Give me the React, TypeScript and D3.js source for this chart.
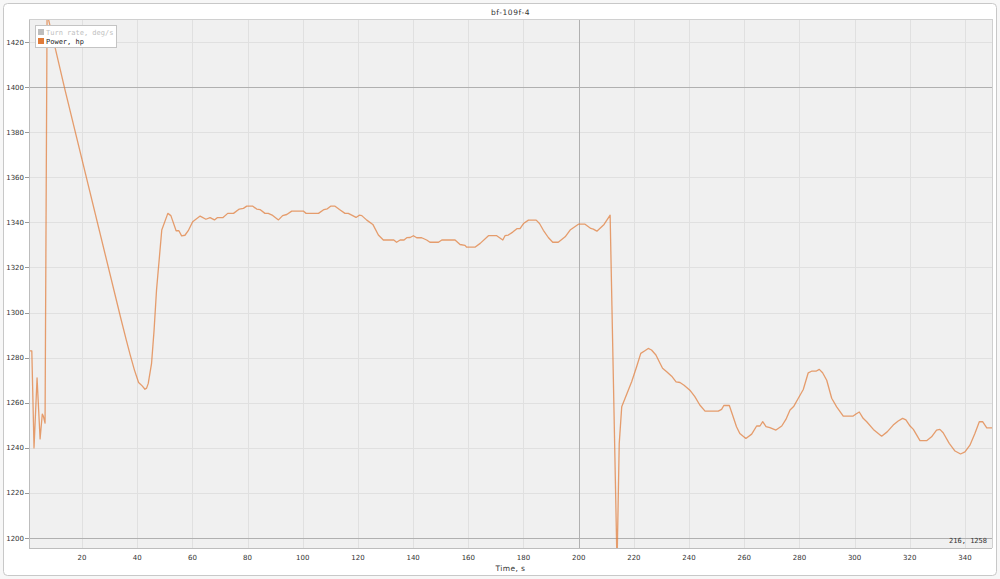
import React from "react";
import * as d3 from "d3";

const TITLE = "bf-109f-4";
const X_LABEL = "Time, s";
const LEGEND_ITEMS = ["Turn rate, deg/s", "Power, hp"];
const READOUT = "216, 1258";

const timeS = [
  0.8, 1.8, 2.6, 3.7, 4.8, 5.6, 6.0, 6.6, 7.4, 7.85, 13.85, 34.0, 36.0, 37.5, 39.0, 40.5, 41.8, 42.8, 43.4, 44.0,
  45.2, 46.1, 47.0, 48.9, 51.1, 52.2, 54.1, 55.1, 56.1, 57.3, 58.5, 60.1, 62.8, 64.9, 66.4, 68.0,
  69.0, 71.0, 72.8, 74.9, 77.0, 78.5, 79.7, 81.9, 83.3, 84.5, 86.3, 87.5, 89.1, 91.2, 92.7, 94.2,
  96.0, 100.2, 101.2, 105.7, 107.7, 108.9, 110.1, 111.7, 113.3, 115.3, 116.5, 118.1, 119.3, 120.5,
  121.4, 123.2, 125.4, 127.4, 129.2, 133.0, 134.0, 135.3, 136.7, 137.7, 138.9, 140.1, 141.3, 143.1,
  144.9, 146.1, 149.2, 150.4, 155.2, 157.0, 158.8, 159.4, 162.4, 164.3, 167.3, 170.3, 172.5, 173.3,
  174.5, 176.1, 177.6, 178.8, 180.0, 181.8, 184.6, 185.8, 187.2, 189.0, 190.6, 192.6, 195.1, 196.9,
  199.9, 202.3, 204.4, 205.3, 206.6, 209.2, 211.4, 213.9, 214.7, 215.6, 219.2, 221.0, 222.5, 224.0,
  225.2, 226.4, 228.0, 229.2, 230.4, 231.9, 233.7, 235.3, 236.7, 238.2, 240.3, 242.1, 243.9, 245.8,
  250.6, 251.8, 252.6, 254.6, 255.8, 257.2, 258.4, 260.6, 262.7, 264.5, 265.7, 266.7, 267.9, 269.3,
  271.5, 273.6, 275.1, 276.6, 278.0, 279.6, 281.4, 283.2, 284.4, 286.0, 287.2, 288.4, 289.9, 291.7,
  293.5, 295.9, 299.5, 300.5, 301.7, 303.1, 304.4, 306.8, 309.8, 311.8, 314.0, 315.8, 317.4, 318.6,
  320.1, 321.3, 323.7, 326.1, 327.9, 329.7, 330.9, 332.1, 334.3, 336.4, 338.4, 340.0, 341.8, 343.6,
  345.2, 346.4, 347.9, 349.8,
];

const powerHp = [
  1283, 1283, 1240, 1271, 1244, 1255, 1254, 1251, 1450, 1430, 1398.7, 1297.7, 1288, 1281, 1274.5, 1269, 1267.5, 1266, 1266.5, 1268.6,
  1277.5, 1292, 1310, 1336.6, 1344, 1343, 1336.3, 1336.3, 1334, 1334.3, 1336.3, 1340.3, 1342.8, 1341.4, 1342.1, 1341.1,
  1342.1, 1342.1, 1344, 1344, 1345.9, 1346.2, 1347.2, 1347.2, 1345.9, 1345.7, 1344, 1344, 1343.1, 1341.1, 1343, 1343.5,
  1345, 1345, 1344, 1344, 1345.7, 1346, 1347.2, 1347.2, 1345.7, 1344, 1344, 1343, 1342.2, 1343.2,
  1343, 1341, 1339.1, 1334.4, 1332.2, 1332.2, 1331.2, 1332.2, 1332.2, 1333.2, 1333.3, 1334.1, 1333.2, 1333.2,
  1332.2, 1331.2, 1331.2, 1332.2, 1332.2, 1330.2, 1329.8, 1329, 1329, 1330.7, 1334.1, 1334.1, 1332.2, 1334.1,
  1334.4, 1335.7, 1337.2, 1337.3, 1339.5, 1341, 1341, 1339.5, 1336.5, 1333.3, 1331.2, 1331.2, 1333.6, 1336.6,
  1339.2, 1339.2, 1337.3, 1337, 1336.1, 1339.1, 1343.2, 1188, 1242, 1258.2, 1269.3, 1276, 1281.9, 1283.1,
  1284.1, 1283.4, 1281.2, 1278.2, 1275.3, 1273.8, 1271.8, 1269.3, 1269, 1267.8, 1265.6, 1262.7, 1259, 1256.3,
  1256.3, 1257.1, 1258.8, 1258.8, 1254.5, 1249.4, 1246.4, 1244.2, 1246.1, 1249.7, 1249.7, 1251.6, 1249.4, 1249,
  1247.9, 1249.7, 1252.6, 1256.8, 1258.5, 1262, 1265.9, 1273.3, 1274, 1274, 1274.8, 1273.3, 1270, 1262,
  1258.2, 1254.1, 1254.1, 1255, 1255.9, 1253.1, 1251.6, 1248.2, 1245.2, 1247.1, 1250.1, 1251.9, 1253.1, 1252.4,
  1249.7, 1248.2, 1243.2, 1243.2, 1244.9, 1247.9, 1248.2, 1246.7, 1242, 1238.6, 1237.3, 1238.2, 1241.2, 1246.4,
  1251.6, 1251.6, 1248.9, 1248.9,
];

const xTicks = [20, 40, 60, 80, 100, 120, 140, 160, 180, 200, 220, 240, 260, 280, 300, 320, 340];
const yTicks = [1200, 1220, 1240, 1260, 1280, 1300, 1320, 1340, 1360, 1380, 1400, 1420];
const majorX = [200];
const majorY = [1200, 1400];

export default function App() {
  const W = 1000, H = 579;
  const L = 29, R = 992, T = 19, B = 548;
  const x = d3.scaleLinear().domain([0.78, 349.8]).range([L, R]);
  const y = d3.scaleLinear().domain([1195.6, 1430.2]).range([B, T]);
  const cx = (t: number) => Math.round(x(t)) + 0.5;
  const cy = (v: number) => Math.round(y(v)) + 0.5;
  const pts = timeS.map((t, i) => [t, powerHp[i]] as [number, number]);
  const line = d3.line<[number, number]>().x(d => x(d[0])).y(d => y(d[1]));
  const sans = "'DejaVu Sans', sans-serif";
  const mono = "'DejaVu Sans Mono', monospace";
  return (
    <svg width={W} height={H} style={{ position: "absolute", left: 0, top: 0 }} xmlns="http://www.w3.org/2000/svg">
      <rect x={0} y={0} width={W} height={H} fill="#f7f7f7" />
      <rect x={3.5} y={3.5} width={993} height={572} rx={4} fill="#ffffff" stroke="#c8c8c8" />
      <text x={(L + R) / 2} y={15} textAnchor="middle" fontFamily={sans} fontSize={7.5} fill="#333" letterSpacing={0.6}>{TITLE}</text>
      <defs>
        <clipPath id="plotclip"><rect x={L} y={T} width={R - L} height={B - T} /></clipPath>
      </defs>
      <rect x={L} y={T} width={R - L} height={B - T} fill="#f0f0f0" />
      {xTicks.map(t => (
        <line key={"gx" + t} x1={cx(t)} x2={cx(t)} y1={T} y2={B} stroke="#e0e0e0" strokeWidth={1} />
      ))}
      {yTicks.map(v => (
        <line key={"gy" + v} x1={L} x2={R} y1={cy(v)} y2={cy(v)} stroke="#e0e0e0" strokeWidth={1} />
      ))}
      {majorX.map(t => (
        <line key={"mx" + t} x1={cx(t)} x2={cx(t)} y1={T} y2={B} stroke="#b0b0b0" strokeWidth={1} />
      ))}
      {majorY.map(v => (
        <line key={"my" + v} x1={L} x2={R} y1={cy(v)} y2={cy(v)} stroke="#b0b0b0" strokeWidth={1} />
      ))}
      <path d={line(pts) || ""} fill="none" stroke="#e07b39" strokeOpacity={0.72} strokeWidth={1.3} strokeLinejoin="round" clipPath="url(#plotclip)" />
      <line x1={L + 0.5} x2={L + 0.5} y1={T} y2={B} stroke="#bdbdbd" />
      <line x1={L} x2={R} y1={B + 0.5} y2={B + 0.5} stroke="#bdbdbd" />
      <line x1={R + 0.5} x2={R + 0.5} y1={T} y2={B} stroke="#d0d0d0" />
      <line x1={L} x2={R} y1={T + 0.5} y2={T + 0.5} stroke="#d0d0d0" />
      {yTicks.map(v => (
        <g key={"ty" + v}>
          <line x1={L - 4} x2={L} y1={cy(v)} y2={cy(v)} stroke="#999" />
          <text x={L - 5} y={y(v) + 2.5} textAnchor="end" fontFamily={sans} fontSize={7} fill="#333">{v}</text>
        </g>
      ))}
      {xTicks.map(t => (
        <text key={"tx" + t} x={x(t)} y={560} textAnchor="middle" fontFamily={sans} fontSize={7} fill="#333">{t}</text>
      ))}
      <text x={(L + R) / 2} y={571} textAnchor="middle" fontFamily={sans} fontSize={7.5} fill="#333" letterSpacing={0.4}>{X_LABEL}</text>
      <text x={R - 5} y={543} textAnchor="end" fontFamily={mono} fontSize={7} fill="#333">{READOUT}</text>
      <g>
        <rect x={35.5} y={25.5} width={81} height={22} fill="#ffffff" stroke="#c4c4c4" />
        <rect x={38} y={29} width={6} height={6} fill="#bdbdbd" />
        <text x={46} y={35} fontFamily={mono} fontSize={7} fill="#c0c0c0">{LEGEND_ITEMS[0]}</text>
        <rect x={38} y={38} width={6} height={6} fill="#e07b39" />
        <text x={46} y={44} fontFamily={mono} fontSize={7} fill="#222">{LEGEND_ITEMS[1]}</text>
      </g>
    </svg>
  );
}
